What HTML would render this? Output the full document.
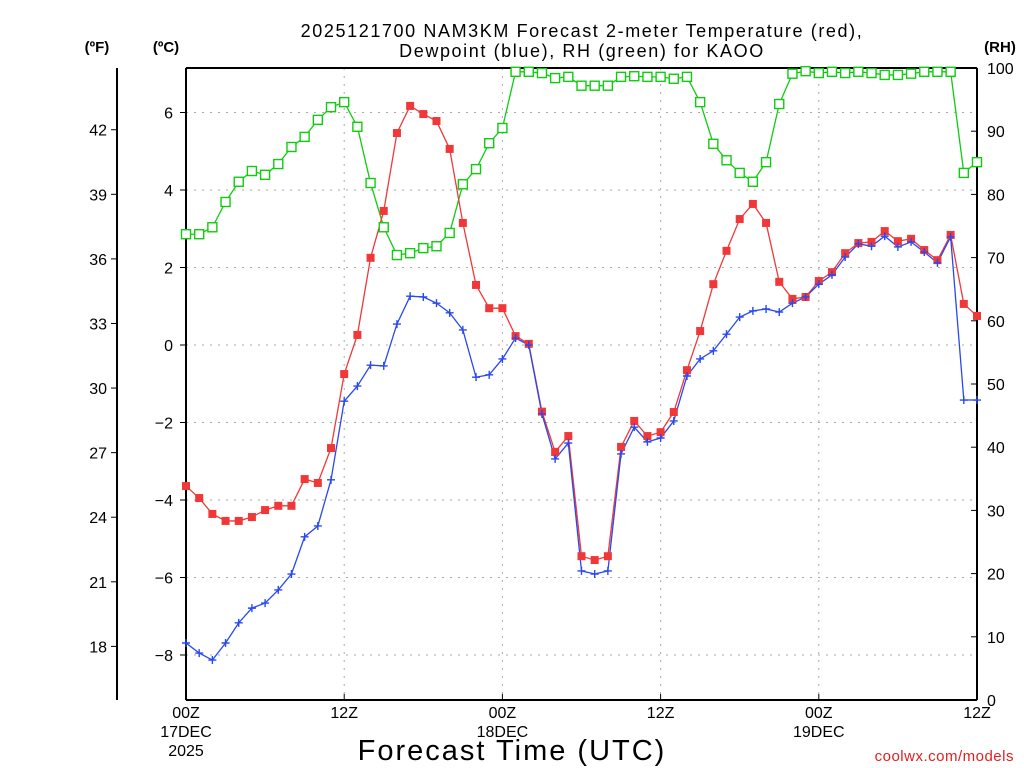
<!DOCTYPE html>
<html><head><meta charset="utf-8"><style>
body{margin:0;background:#fff;}
svg{display:block;font-family:"Liberation Sans",sans-serif;}
</style></head><body>
<svg id="chart" width="1024" height="768" viewBox="0 0 1024 768" xmlns="http://www.w3.org/2000/svg">
<rect width="1024" height="768" fill="#fff"/>
<text x="582" y="37" text-anchor="middle" font-size="18" letter-spacing="1.6">2025121700 NAM3KM Forecast 2-meter Temperature (red),</text>
<text x="582" y="57" text-anchor="middle" font-size="18" letter-spacing="1.6">Dewpoint (blue), RH (green) for KAOO</text>
<text x="97" y="52" text-anchor="middle" font-size="15" font-weight="bold">(ºF)</text>
<text x="166" y="52" text-anchor="middle" font-size="15" font-weight="bold">(ºC)</text>
<text x="1000" y="52" text-anchor="middle" font-size="15" font-weight="bold">(RH)</text>
<text x="512" y="760" text-anchor="middle" font-size="29" letter-spacing="2">Forecast Time (UTC)</text>
<text x="1014" y="761" text-anchor="end" font-size="15" fill="#e02020" letter-spacing="0.5">coolwx.com/models</text>
<g id="grid"></g><g id="axes"></g><g id="series"></g>
</svg>
<script>
const hours=[];for(let i=0;i<=60;i++)hours.push(i);
const tempC=[-3.64,-3.95,-4.36,-4.54,-4.54,-4.44,-4.26,-4.15,-4.15,-3.46,-3.56,-2.66,-0.75,0.26,2.25,3.46,5.47,6.17,5.96,5.78,5.06,3.15,1.55,0.95,0.95,0.23,0.03,-1.72,-2.76,-2.35,-5.45,-5.55,-5.45,-2.63,-1.96,-2.35,-2.25,-1.73,-0.65,0.36,1.57,2.43,3.25,3.64,3.15,1.63,1.19,1.24,1.65,1.88,2.37,2.63,2.66,2.94,2.68,2.74,2.45,2.19,2.84,1.06,0.75];
const dewC=[-7.69,-7.95,-8.13,-7.69,-7.17,-6.79,-6.66,-6.32,-5.91,-4.95,-4.67,-3.48,-1.45,-1.06,-0.52,-0.54,0.54,1.26,1.24,1.08,0.83,0.39,-0.83,-0.77,-0.36,0.18,0,-1.78,-2.94,-2.53,-5.83,-5.91,-5.83,-2.81,-2.12,-2.5,-2.4,-1.96,-0.8,-0.36,-0.15,0.28,0.72,0.88,0.93,0.85,1.08,1.24,1.57,1.81,2.27,2.61,2.55,2.81,2.53,2.66,2.4,2.12,2.79,-1.42,-1.42];
const rh=[73.7,73.7,74.8,78.8,82,83.7,83.1,84.8,87.5,89.1,91.8,93.8,94.6,90.7,81.8,74.8,70.4,70.7,71.5,71.8,73.9,81.6,84,88.1,90.5,99.4,99.4,99.2,98.4,98.6,97.2,97.2,97.2,98.6,98.7,98.6,98.6,98.3,98.6,94.6,88,85.4,83.4,82,85.1,94.3,99.1,99.5,99.2,99.4,99.2,99.4,99.2,98.9,98.9,99.1,99.4,99.4,99.4,83.4,85.1];
const cTicks=[-8,-6,-4,-2,0,2,4,6];
const fTicks=[18,21,24,27,30,33,36,39,42];
const rhTicks=[0,10,20,30,40,50,60,70,80,90,100];
const xTickHours=[0,12,24,36,48,60];
const xTickLabels=["00Z","12Z","00Z","12Z","00Z","12Z"];
const dateLabels=[[0,"17DEC","2025"],[24,"18DEC",""],[48,"19DEC",""]];

const L=186,R=977,T=68,B=700;
const x=h=>L+(R-L)*h/60;
const yC=c=>345-38.75*c;
const yF=f=>yC((f-32)*5/9);
const yRH=r=>B-(B-T)*r/100;
const NS="http://www.w3.org/2000/svg";
function mk(tag,attrs,parent){const e=document.createElementNS(NS,tag);for(const k in attrs)e.setAttribute(k,attrs[k]);parent.appendChild(e);return e;}
const grid=document.getElementById('grid'),axes=document.getElementById('axes'),ser=document.getElementById('series');

cTicks.forEach(c=>{const l=mk('line',{x1:L,x2:R,y1:yC(c),y2:yC(c),stroke:'#aaa','stroke-dasharray':'2,6'},grid);
});
xTickHours.forEach(h=>{if(h===0||h===60)return;const l=mk('line',{x1:x(h),x2:x(h),y1:T,y2:B,stroke:'#aaa','stroke-dasharray':'2,6'},grid);
});

let a;
a=mk('line',{x1:L,x2:R,y1:T,y2:T,stroke:'#000','stroke-width':2},axes);
a=mk('line',{x1:L,x2:R,y1:B,y2:B,stroke:'#000','stroke-width':2},axes);
a=mk('line',{x1:L,x2:L,y1:T,y2:B,stroke:'#000','stroke-width':2},axes);
a=mk('line',{x1:R,x2:R,y1:T,y2:B,stroke:'#000','stroke-width':2},axes);
a=mk('line',{x1:117,x2:117,y1:T,y2:B,stroke:'#000','stroke-width':2},axes);

cTicks.forEach(c=>{mk('line',{x1:L,x2:L-6,y1:yC(c),y2:yC(c),stroke:'#000'},axes);
const t=mk('text',{x:L-13,y:yC(c)+6,'text-anchor':'end','font-size':16},axes);t.textContent=(c<0?'\u2212'+(-c):c);
});
fTicks.forEach(f=>{mk('line',{x1:117,x2:111,y1:yF(f),y2:yF(f),stroke:'#000'},axes);
const t=mk('text',{x:107,y:yF(f)+6,'text-anchor':'end','font-size':16},axes);t.textContent=f;
});
rhTicks.forEach(r=>{mk('line',{x1:R,x2:R-6,y1:yRH(r),y2:yRH(r),stroke:'#000'},axes);
const t=mk('text',{x:R+10,y:yRH(r)+6,'font-size':16},axes);t.textContent=r;
});
xTickHours.forEach((h,i)=>{mk('line',{x1:x(h),x2:x(h),y1:B,y2:B-6,stroke:'#000'},axes);
const t=mk('text',{x:x(h),y:B+18,'text-anchor':'middle','font-size':16},axes);t.textContent=xTickLabels[i];
});
dateLabels.forEach(d=>{const t=mk('text',{x:x(d[0]),y:B+37,'text-anchor':'middle','font-size':16},axes);t.textContent=d[1];

if(d[2]){const t2=mk('text',{x:x(d[0]),y:B+56,'text-anchor':'middle','font-size':16},axes);t2.textContent=d[2];
}});

function line(vals,yf,color,name){const p=mk('polyline',{points:vals.map((v,i)=>x(hours[i])+','+yf(v)).join(' '),fill:'none',stroke:color,'stroke-width':1.3},ser);
}
line(rh,yRH,'#10cc10','rh-line');
line(tempC,yC,'#f03838','temperature-line');
line(dewC,yC,'#2848f0','dewpoint-line');
rh.forEach((v,i)=>{const m=mk('rect',{x:x(hours[i])-4.5,y:yRH(v)-4.5,width:9,height:9,fill:'#fff',stroke:'#10cc10','stroke-width':1.4},ser);
});
tempC.forEach((v,i)=>{const m=mk('rect',{x:x(hours[i])-4,y:yC(v)-4,width:8,height:8,fill:'#f03838'},ser);
});
dewC.forEach((v,i)=>{const cx=x(hours[i]),cy=yC(v);const m=mk('path',{d:`M${cx-4},${cy}H${cx+4}M${cx},${cy-4}V${cy+4}`,stroke:'#2848f0','stroke-width':1.4},ser);
});
</script>
</body></html>
